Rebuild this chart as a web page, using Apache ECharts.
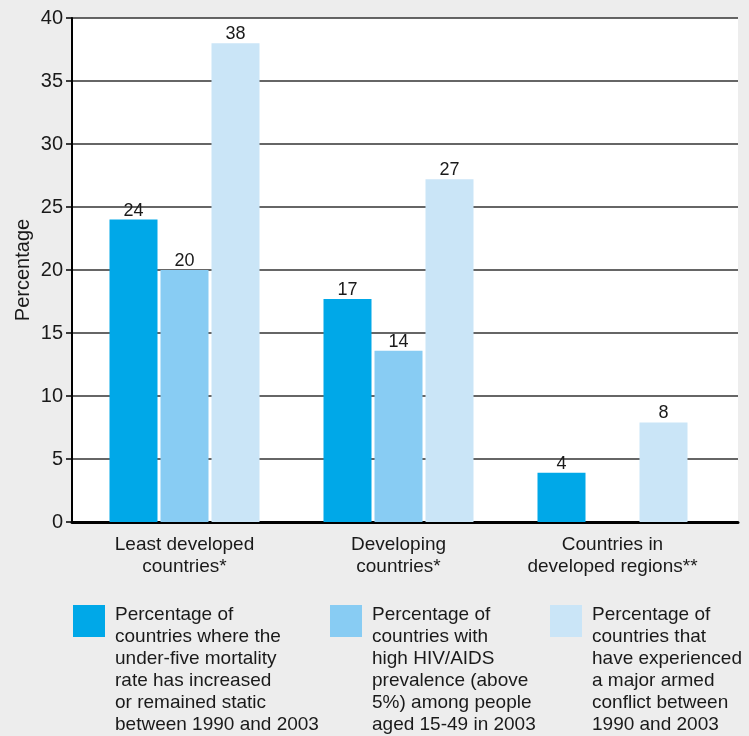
<!DOCTYPE html>
<html>
<head>
<meta charset="utf-8">
<script src="https://cdn.jsdelivr.net/npm/echarts@6/dist/echarts.min.js"></script>
<style>
html,body{margin:0;padding:0;background:#ededed;}
#chart{width:749px;height:736px;}
</style>
</head>
<body>
<div id="chart"></div>
<script>
// ---- data ----
const categories = ['Least developed\ncountries*', 'Developing\ncountries*', 'Countries in\ndeveloped regions**'];
const seriesNames = [
  'Percentage of\ncountries where the\nunder-five mortality\nrate has increased\nor remained static\nbetween 1990 and 2003',
  'Percentage of\ncountries with\nhigh HIV/AIDS\nprevalence (above\n5%) among people\naged 15-49 in 2003',
  'Percentage of\ncountries that\nhave experienced\na major armed\nconflict between\n1990 and 2003'
];
const mortality = [24, 17.7, 3.9];
const hivAids = [20, 13.6, null];
const armedConflict = [38, 27.2, 7.9];
const mortalityLabels = ['24', '17', '4'];
const hivAidsLabels = ['20', '14', ''];
const armedConflictLabels = ['38', '27', '8'];
const yMin = 0, yMax = 40, yStep = 5;
const colors = ['#00a8e8', '#88ccf3', '#cae5f7'];

const FONT = '"Liberation Sans", Arial, Helvetica, sans-serif';
const chart = echarts.init(document.getElementById('chart'));

const seriesData = [mortality, hivAids, armedConflict];
const seriesLabels = [mortalityLabels, hivAidsLabels, armedConflictLabels];

const legendGraphics = [];
const legendX = [73, 330, 550];
seriesNames.forEach((name, i) => {
  legendGraphics.push({
    type: 'rect', left: legendX[i], top: 605,
    shape: { width: 32, height: 32 },
    style: { fill: colors[i] }
  });
  legendGraphics.push({
    type: 'text', left: legendX[i] + 42, top: 604,
    style: { text: name, font: '19px ' + FONT, fill: '#1a1a1a', lineHeight: 22 }
  });
});

chart.setOption({
  backgroundColor: '#ededed',
  animation: false,
  textStyle: { fontFamily: FONT },
  grid: [
    { left: 72, top: 18, width: 666, height: 504, show: true, backgroundColor: '#ffffff', borderWidth: 0,
      containLabel: false, outerBoundsMode: 'none' },
    { left: 77.5, top: 18, width: 642, height: 504, containLabel: false, outerBoundsMode: 'none' }
  ],
  xAxis: [
    { gridIndex: 0, type: 'value', min: 0, max: 1, axisLine: { show: true, onZero: false, lineStyle: { color: '#000', width: 3 } },
      axisTick: { show: false }, axisLabel: { show: false }, splitLine: { show: false } },
    { gridIndex: 1, type: 'category', data: categories, axisLine: { show: false }, axisTick: { show: false },
      axisLabel: { interval: 0, fontSize: 19, color: '#1a1a1a', lineHeight: 22, margin: 12, fontFamily: FONT } }
  ],
  yAxis: [
    { gridIndex: 0, type: 'value', min: yMin, max: yMax, interval: yStep,
      name: 'Percentage', nameLocation: 'middle', nameGap: 39, nameRotate: 90, nameMoveOverlap: false,
      nameTextStyle: { fontSize: 20, color: '#1a1a1a', fontFamily: FONT },
      axisLine: { show: true, lineStyle: { color: '#000', width: 2 } },
      axisTick: { show: true, length: 6, lineStyle: { color: '#000', width: 1.5 } },
      axisLabel: { fontSize: 20, color: '#1a1a1a', margin: 9, fontFamily: FONT },
      splitLine: { show: true, lineStyle: { color: '#333', width: 1.5 } } },
    { gridIndex: 1, type: 'value', min: yMin, max: yMax, interval: yStep, show: false, splitLine: { show: false } }
  ],
  series: seriesData.map((d, i) => ({
    name: seriesNames[i],
    type: 'bar',
    xAxisIndex: 1, yAxisIndex: 1,
    data: d,
    barWidth: 48,
    barGap: '6.25%',
    itemStyle: { color: colors[i] },
    label: {
      show: true, position: 'top', distance: 0,
      fontSize: 18, color: '#1a1a1a', fontFamily: FONT,
      formatter: p => seriesLabels[i][p.dataIndex]
    }
  })),
  graphic: legendGraphics
});
</script>
</body>
</html>
